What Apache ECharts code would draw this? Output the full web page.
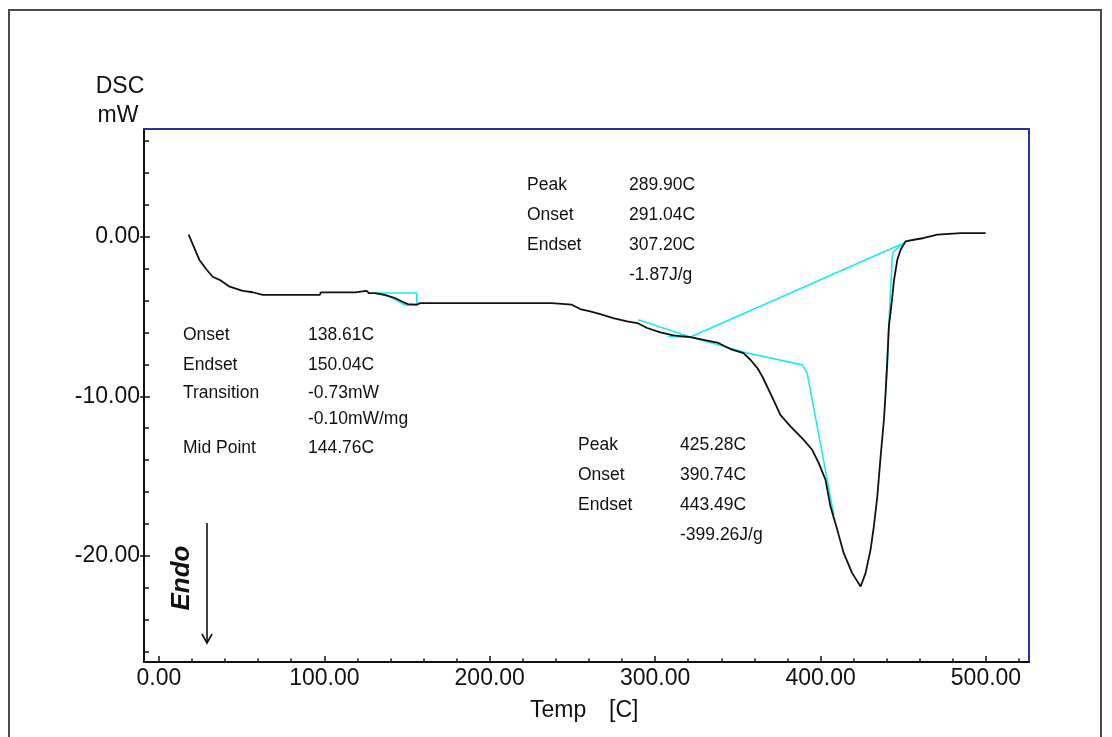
<!DOCTYPE html>
<html>
<head>
<meta charset="utf-8">
<script src="https://cdn.jsdelivr.net/npm/echarts@6/dist/echarts.min.js"></script>
<style>
html,body{margin:0;padding:0;background:#fff;}
#chart{width:1112px;height:737px;}
</style>
</head>
<body>
<div id="chart"></div>
<script>
// ---- data ----
const tempC = [18.0,24.4,28.9,32.5,36.7,42.8,50.7,56.7,62.8,73.1,97.3,97.9,118.5,119.7,125.7,126.9,130.6,136.6,142.7,146.9,150.5,155.9,157.8,194.1,237.5,237.7,249.6,254.7,260.7,266.8,274.6,283.1,289.2,295.2,303.1,311.0,321.3,329.2,337.6,345.5,353.4,357.6,361.8,364.8,370.9,375.7,381.8,389.8,394.9,398.9,403.0,406.0,410.1,414.0,419.1,424.2,427.2,430.2,432.2,434.3,436.3,438.3,439.3,440.3,441.3,443.3,444.3,446.4,448.4,451.4,456.4,462.5,470.6,484.7,499.8];
const dscMW = [0.13,-1.44,-2.07,-2.51,-2.70,-3.13,-3.39,-3.48,-3.64,-3.64,-3.64,-3.49,-3.49,-3.40,-3.40,-3.53,-3.53,-3.64,-3.84,-4.06,-4.22,-4.26,-4.16,-4.16,-4.16,-4.26,-4.26,-4.53,-4.68,-4.85,-5.10,-5.31,-5.41,-5.72,-6.00,-6.18,-6.29,-6.46,-6.63,-7.04,-7.29,-7.71,-8.23,-8.76,-10.09,-11.16,-11.89,-12.73,-13.35,-14.19,-15.24,-16.91,-18.37,-19.83,-21.08,-21.92,-21.08,-19.62,-18.16,-16.28,-13.77,-11.47,-9.80,-7.92,-5.62,-3.85,-2.80,-1.44,-0.82,-0.29,-0.19,-0.08,0.13,0.23,0.23];

// analysis construction lines (cyan), [temp, mW]
const glassStep = [[130.6,-3.53],[155.9,-3.53],[155.9,-4.29],[149.1,-4.29],[139.6,-3.76],[130.6,-3.53]];
const smallPeakTangent = [[289.8,-5.20],[321.3,-6.29]];
const bigPeakBaseline = [[321.3,-6.29],[450.4,-0.39]];
const onsetTangent = [[307.9,-6.25],[321.3,-6.29],[355.8,-7.29],[388.9,-8.03],[391.9,-8.55],[408.0,-17.43]];
const endsetTangent = [[450.4,-0.39],[444.1,-0.94],[443.3,-1.24],[439.3,-9.80]];

const xMajor = [0,100,200,300,400,500];
const xMinor = [20,40,60,80,120,140,160,180,220,240,260,280,320,340,360,380,420,440,460,480,520];
const yMajor = [-20,-10,0];
const yMinor = [-26,-24,-22,-18,-16,-14,-12,-8,-6,-4,-2,2,4,6];

const ann1Labels = ['Onset','Endset','Transition','','Mid Point'];
const ann1Values = ['138.61C','150.04C','-0.73mW','-0.10mW/mg','144.76C'];
const ann2Labels = ['Peak','Onset','Endset',''];
const ann2Values = ['289.90C','291.04C','307.20C','-1.87J/g'];
const ann3Labels = ['Peak','Onset','Endset',''];
const ann3Values = ['425.28C','390.74C','443.49C','-399.26J/g'];

// ---- chart ----
const XMIN = -9, XMAX = 526, YMIN = -26.65, YMAX = 6.75;
const NAVY = '#24359a', CYAN = '#1de9f2', BIG = 'Liberation Sans, Arial, sans-serif';
const curve = tempC.map((t,i)=>[t,dscMW[i]]);

function txt(x,y,s,size,opt){
  opt = opt||{};
  return {type:'text', x:x, y:y, rotation:opt.rot||0, silent:true,
    style:{text:s, x:0, y:0, fill:'#111', font:(opt.style||'')+' '+size+'px '+BIG,
      align:opt.align||'left', verticalAlign:'middle', textAlign:opt.align||'left', textVerticalAlign:'middle'}};
}
const graphics = [];
graphics.push({type:'rect', shape:{x:9,y:10,width:1092,height:745}, style:{fill:'none',stroke:'#4a4a4a',lineWidth:2}, silent:true, z:-1});
graphics.push(txt(120,87,'DSC',23,{align:'center'}));
graphics.push(txt(118,116,'mW',23,{align:'center'}));
graphics.push(txt(530,711,'Temp',23));
graphics.push(txt(609,711,'[C]',23));
graphics.push(txt(182,578,'Endo',26,{rot:Math.PI/2,align:'center',style:'italic bold'}));
graphics.push({type:'polyline', shape:{points:[[207,523],[207,643]]}, style:{stroke:'#111',lineWidth:1.6,fill:null}, silent:true});
graphics.push({type:'polyline', shape:{points:[[202,634],[207,643],[212,634]]}, style:{stroke:'#111',lineWidth:1.6,fill:null}, silent:true});
const ann1Y = [335,365,393,419,448];
ann1Labels.forEach((s,i)=>{ if(s) graphics.push(txt(183,ann1Y[i],s,17.5)); graphics.push(txt(308,ann1Y[i],ann1Values[i],17.5)); });
const ann2Y = [185,215,245,275];
ann2Labels.forEach((s,i)=>{ if(s) graphics.push(txt(527,ann2Y[i],s,17.5)); graphics.push(txt(629,ann2Y[i],ann2Values[i],17.5)); });
const ann3Y = [445,475,505,535];
ann3Labels.forEach((s,i)=>{ if(s) graphics.push(txt(578,ann3Y[i],s,17.5)); graphics.push(txt(680,ann3Y[i],ann3Values[i],17.5)); });

function cyan(d){ return {type:'line', data:d, showSymbol:false, symbol:'none', silent:true, lineStyle:{color:CYAN,width:1.6}, z:2}; }
const noLine = {show:false, onZero:false};

const chart = echarts.init(document.getElementById('chart'), null, {renderer:'canvas'});
chart.setOption({
  animation:false,
  backgroundColor:'#fff',
  grid:{left:144, top:129, width:885, height:533, containLabel:false},
  xAxis:[
    {type:'value', min:XMIN, max:XMAX, position:'bottom',
     axisLine:{show:true, onZero:false, lineStyle:{color:'#111',width:2}},
     axisTick:{show:true, inside:true, length:6, customValues:xMajor, lineStyle:{color:'#111',width:1.5}},
     axisLabel:{show:true, customValues:xMajor, margin:5, fontSize:23, fontFamily:BIG, color:'#111', formatter:v=>v.toFixed(2)},
     splitLine:{show:false}},
    {type:'value', min:XMIN, max:XMAX, position:'bottom',
     axisLine:noLine, axisLabel:{show:false}, splitLine:{show:false},
     axisTick:{show:true, inside:true, length:3.5, customValues:xMinor, lineStyle:{color:'#111',width:1.5}}},
    {type:'value', min:XMIN, max:XMAX, position:'top',
     axisLine:{show:true, onZero:false, lineStyle:{color:NAVY,width:2}}, axisTick:{show:false}, axisLabel:{show:false}, splitLine:{show:false}}
  ],
  yAxis:[
    {type:'value', min:YMIN, max:YMAX, position:'left',
     axisLine:{show:true, onZero:false, lineStyle:{color:'#111',width:2}},
     axisTick:{show:true, inside:true, length:6, customValues:yMajor, lineStyle:{color:'#111',width:1.5}},
     axisLabel:{show:true, customValues:yMajor, margin:4, fontSize:23, fontFamily:BIG, color:'#111', formatter:v=>v.toFixed(2)},
     splitLine:{show:false}},
    {type:'value', min:YMIN, max:YMAX, position:'left', offset:0,
     axisLine:noLine, axisLabel:{show:false}, splitLine:{show:false},
     axisTick:{show:true, inside:true, length:5, customValues:yMinor, lineStyle:{color:'#111',width:1.5}}},
    {type:'value', min:YMIN, max:YMAX, position:'left', offset:0,
     axisLine:noLine, axisLabel:{show:false}, splitLine:{show:false},
     axisTick:{show:true, inside:false, length:4, customValues:yMajor, lineStyle:{color:'#111',width:1.5}}},
    {type:'value', min:YMIN, max:YMAX, position:'right',
     axisLine:{show:true, onZero:false, lineStyle:{color:NAVY,width:2}}, axisTick:{show:false}, axisLabel:{show:false}, splitLine:{show:false}}
  ],
  series:[
    cyan(glassStep), cyan(smallPeakTangent), cyan(bigPeakBaseline), cyan(onsetTangent), cyan(endsetTangent),
    {type:'line', data:curve, showSymbol:false, symbol:'none', silent:true, lineStyle:{color:'#111',width:1.8}, z:3}
  ],
  graphic:graphics
});
</script>
</body>
</html>
